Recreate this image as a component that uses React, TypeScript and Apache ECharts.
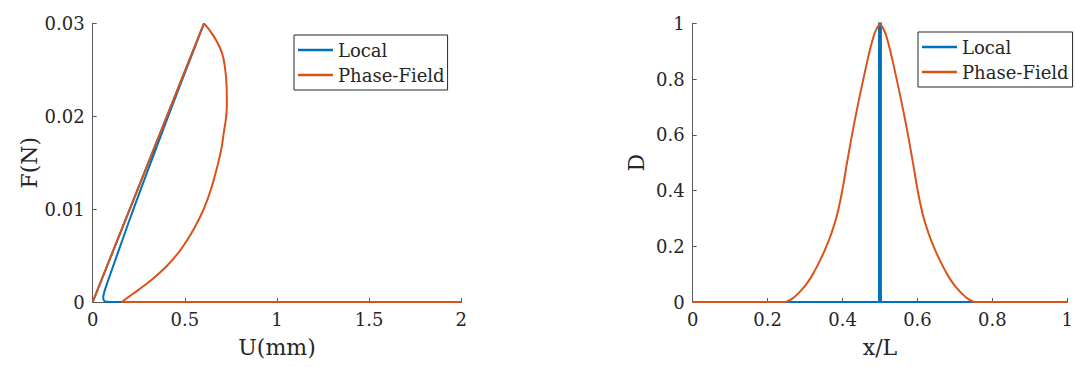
import React, { useEffect, useRef } from "react";
import * as echarts from "echarts";

// Force–displacement response (left panel)
const localU = [0, 0.604, 0.507, 0.41, 0.315, 0.221, 0.167, 0.1135, 0.078, 0.062, 0.057, 0.06, 0.068, 0.085, 0.15, 2.0];
const localF = [0, 0.03, 0.025, 0.02, 0.015, 0.01, 0.007, 0.004, 0.002, 0.001, 0.0005, 0.0002, 0.00005, 0, 0, 0];

// phase-field: elastic loading, snap-back branch, fully broken tail
const pfLoadU = [0, 0.604];
const pfLoadF = [0, 0.03];
const pfSnapU = [0.604, 0.654, 0.7, 0.718, 0.727, 0.728, 0.722, 0.711, 0.7, 0.685, 0.667, 0.646, 0.622, 0.591, 0.555, 0.514, 0.461, 0.398, 0.32, 0.248, 0.199, 0.157];
const pfSnapF = [0.03, 0.0287, 0.0269, 0.0252, 0.023, 0.0212, 0.0196, 0.0182, 0.0167, 0.0153, 0.0139, 0.0124, 0.011, 0.0095, 0.0081, 0.0067, 0.0052, 0.0038, 0.0024, 0.0013, 0.0006, 0];
const pfTailU = [0.157, 2.0];
const pfTailF = [0, 0];

// Damage profile along the bar (right panel)
const localX = [0, 0.4975, 0.4975, 0.5025, 0.5025, 1];
const localD = [0, 0, 1, 1, 0, 0];

const pfLeftX = [0, 0.25];
const pfLeftD = [0, 0];
const pfRiseX = [0.25, 0.266, 0.282, 0.3, 0.317, 0.335, 0.353, 0.37, 0.385, 0.4, 0.412, 0.432, 0.458, 0.484, 0.5];
const pfRiseD = [0, 0.012, 0.031, 0.058, 0.091, 0.136, 0.187, 0.245, 0.31, 0.405, 0.5, 0.647, 0.815, 0.958, 1.0];
const pfFallX = [0.5, 0.516, 0.542, 0.568, 0.588, 0.6, 0.615, 0.63, 0.647, 0.665, 0.683, 0.7, 0.718, 0.734, 0.75];
const pfFallD = [1.0, 0.958, 0.815, 0.647, 0.5, 0.405, 0.31, 0.245, 0.187, 0.136, 0.091, 0.058, 0.031, 0.012, 0];
const pfRightX = [0.75, 1];
const pfRightD = [0, 0];

const seriesNames = ["Local", "Phase-Field"];
const uTicks = ["0", "0.5", "1", "1.5", "2"];
const fTicks = ["0", "0.01", "0.02", "0.03"];
const xlTicks = ["0", "0.2", "0.4", "0.6", "0.8", "1"];
const dTicks = ["0", "0.2", "0.4", "0.6", "0.8", "1"];

const BLUE = "#0072BD";
const ORANGE = "#D95319";
const TEXT = "#262626";
const AXIS = "#5a5a5a";
const FONT = "DejaVu Serif";

const pairs = (xs: number[], ys: number[]) => xs.map((x, i) => [x, ys[i]]);

const tickFmt = (labels: string[], step: number) => (v: number) =>
  labels[Math.round(v / step)] ?? "";

function valueAxis(gridIndex: number, min: number, max: number, interval: number, labels: string[], name: string, nameGap: number) {
  return {
    type: "value",
    gridIndex,
    min,
    max,
    interval,
    name,
    nameLocation: "middle",
    nameGap,
    nameTextStyle: { fontFamily: FONT, fontSize: 22, color: TEXT },
    axisLine: { show: true, onZero: false, lineStyle: { color: AXIS, width: 1 } },
    axisTick: { show: true, inside: true, length: 4, lineStyle: { color: AXIS, width: 1 } },
    axisLabel: {
      fontFamily: FONT,
      fontSize: 18,
      color: TEXT,
      margin: 8,
      formatter: tickFmt(labels, interval),
      showMinLabel: true,
      showMaxLabel: true,
    },
    splitLine: { show: false },
  };
}

function legend(left: number, top: number, padRight: number) {
  return {
    data: seriesNames,
    orient: "vertical",
    left,
    top,
    icon: "rect",
    itemWidth: 35,
    itemHeight: 2.5,
    itemGap: 7,
    padding: [6, padRight, 6, 4],
    borderColor: TEXT,
    borderWidth: 1,
    backgroundColor: "#fff",
    selectedMode: false,
    textStyle: { fontFamily: FONT, fontSize: 18, color: TEXT, lineHeight: 18 },
  };
}

function line(name: string, color: string, data: number[][], idx: number, smooth = 0) {
  return {
    name,
    type: "line",
    xAxisIndex: idx,
    yAxisIndex: idx,
    data,
    showSymbol: false,
    symbol: "none",
    smooth,
    color,
    itemStyle: { color },
    lineStyle: { color, width: 2, join: "miter" },
  };
}

export default function App() {
  const ref = useRef<HTMLDivElement>(null);

  useEffect(() => {
    if (!ref.current) return;
    const chart = echarts.init(ref.current, undefined, { renderer: "svg" });
    chart.setOption({
      animation: false,
      backgroundColor: "#fff",
      grid: [
        { left: 92.7, top: 23.3, width: 368.6, height: 278.7 },
        { left: 692.7, top: 23.3, width: 380, height: 278.7 },
      ],
      xAxis: [
        valueAxis(0, 0, 2, 0.5, uTicks, "U(mm)", 34),
        valueAxis(1, 0, 1, 0.2, xlTicks, "x/L", 34),
      ],
      yAxis: [
        valueAxis(0, 0, 0.03, 0.01, fTicks, "F(N)", 52),
        valueAxis(1, 0, 1, 0.2, dTicks, "D", 45),
      ],
      legend: [legend(294, 35, 3), legend(918, 32, 4)],
      series: [
        line("Local", BLUE, pairs(localU, localF), 0, 0.3),
        line("Phase-Field", ORANGE, pairs(pfLoadU, pfLoadF), 0),
        line("Phase-Field", ORANGE, pairs(pfSnapU, pfSnapF), 0, 0.4),
        line("Phase-Field", ORANGE, pairs(pfTailU, pfTailF), 0),
        line("Local", BLUE, pairs(localX, localD), 1),
        line("Phase-Field", ORANGE, pairs(pfLeftX, pfLeftD), 1),
        line("Phase-Field", ORANGE, pairs(pfRiseX, pfRiseD), 1, 0.4),
        line("Phase-Field", ORANGE, pairs(pfFallX, pfFallD), 1, 0.4),
        line("Phase-Field", ORANGE, pairs(pfRightX, pfRightD), 1),
      ],
    });
    return () => chart.dispose();
  }, []);

  return (
    <div
      ref={ref}
      style={{ position: "fixed", left: 0, top: 0, width: 1076, height: 367, background: "#fff" }}
    />
  );
}
